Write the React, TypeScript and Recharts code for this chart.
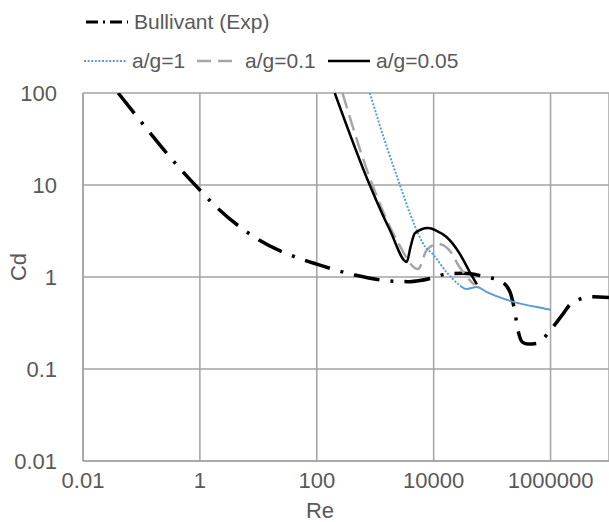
import { CartesianGrid, Label, Line, LineChart, XAxis, YAxis } from "recharts";

// Re / Cd pairs (log-log)
const bullivantRe = [0.04, 0.106, 0.42, 1, 1.7, 8.7, 60, 100, 446, 2000, 3900, 9500, 16600, 31600, 79000, 145000, 200000, 240000, 275000, 330000, 410000, 575000, 1070000, 1600000, 2300000, 5200000, 10000000];
const bullivantCd = [100, 46, 16, 8.8, 6.2, 2.7, 1.53, 1.38, 1.05, 0.9, 0.89, 0.975, 1.08, 1.1, 1.0, 0.89, 0.7, 0.45, 0.27, 0.196, 0.187, 0.19, 0.28, 0.39, 0.52, 0.61, 0.6];

const ag1Re = [805, 1580, 2650, 3900, 5100, 6500, 10000, 16600, 27500, 36000, 55000, 80000, 224000, 840000, 1000000];
const ag1Cd = [100, 25.9, 10, 4.97, 3.24, 2.34, 1.73, 1.13, 0.82, 0.74, 0.78, 0.69, 0.54, 0.45, 0.44];

const ag01Re = [275, 870, 2350, 5400, 7600, 11700, 18500, 27500, 41700, 50000];
const ag01Cd = [100, 10.5, 2.5, 1.22, 1.96, 2.29, 1.96, 1.29, 0.92, 0.82];

const ag005Re = [203, 805, 1780, 3470, 4000, 4800, 8000, 11000, 16600, 27500, 41500, 55000];
const ag005Cd = [100, 10, 3.24, 1.46, 2.1, 3.0, 3.4, 3.2, 2.72, 1.82, 1.13, 0.83];

const xTicks = [0.01, 1, 100, 10000, 1000000];
const yTicks = [0.01, 0.1, 1, 10, 100];

const toRows = (re: number[], cd: number[]) => re.map((r, i) => ({ re: r, cd: cd[i] }));

const bullivant = toRows(bullivantRe, bullivantCd);
const ag1 = toRows(ag1Re, ag1Cd);
const ag01 = toRows(ag01Re, ag01Cd);
const ag005 = toRows(ag005Re, ag005Cd);

const textColor = "#595959";
const gridColor = "#a3a3a3";

// dotted along the steep part, then solid (like the dense points in the original)
const blueDash = Array(60).fill("2 1.6").join(" ") + " 3000 0";

function LegendIcon({ stroke, dash, width }: { stroke: string; dash?: string; width: number }) {
  return (
    <svg width={42} height={10} style={{ marginRight: 6 }}>
      <line x1={0} y1={5} x2={42} y2={5} stroke={stroke} strokeWidth={width} strokeDasharray={dash} />
    </svg>
  );
}

function ChartLegend() {
  const item = (left: number, top: number, children: any) => (
    <div style={{ position: "absolute", left, top, display: "flex", alignItems: "center", whiteSpace: "nowrap" }}>
      {children}
    </div>
  );
  return (
    <div style={{ position: "absolute", left: 0, top: 0, fontSize: 21, color: textColor }}>
      {item(86, 10, <><LegendIcon stroke="#000" dash="12 5 2 5" width={3} />Bullivant (Exp)</>)}
      {item(84, 49, <><LegendIcon stroke="#5b9bd5" dash="2 1.6" width={2} />a/g=1</>)}
      {item(197, 49, <><LegendIcon stroke="#a6a6a6" dash="14 7" width={2.5} />a/g=0.1</>)}
      {item(328, 49, <><LegendIcon stroke="#000" width={2.5} />a/g=0.05</>)}
    </div>
  );
}

export default function App() {
  return (
    <div style={{ position: "fixed", left: 0, top: 0, width: 609, height: 522, overflow: "hidden", background: "#fff", fontFamily: "'Liberation Sans', Arial, sans-serif" }}>
      <LineChart width={609} height={522} margin={{ top: 93, right: 0, left: 0, bottom: 0 }}>
        <CartesianGrid stroke={gridColor} strokeWidth={1.5} />
        <XAxis
          dataKey="re"
          type="number"
          scale="log"
          domain={[0.01, 10000000]}
          ticks={xTicks}
          allowDataOverflow
          height={61}
          tickLine={false}
          tickSize={0}
          tickMargin={11}
          axisLine={{ stroke: gridColor, strokeWidth: 1.5 }}
          tick={{ fill: textColor, fontSize: 22 }}
        >
          <Label content={() => <text x={320} y={518} textAnchor="middle" fill={textColor} fontSize={22}>Re</text>} />
        </XAxis>
        <YAxis
          dataKey="cd"
          type="number"
          scale="log"
          domain={[0.01, 100]}
          ticks={yTicks}
          allowDataOverflow
          width={83}
          tickLine={false}
          tickSize={0}
          tickMargin={26}
          axisLine={{ stroke: gridColor, strokeWidth: 1.5 }}
          tick={{ fill: textColor, fontSize: 22 }}
        >
          <Label content={() => (
            <text x={18} y={267} transform="rotate(-90 18 267)" textAnchor="middle" dominantBaseline="central" fill={textColor} fontSize={22}>Cd</text>
          )} />
        </YAxis>
        <Line data={bullivant} dataKey="cd" type="monotone" stroke="#000" strokeWidth={3.5} strokeDasharray="26 11 3 11" dot={false} isAnimationActive={false} />
        <Line data={ag01} dataKey="cd" type="monotone" stroke="#a6a6a6" strokeWidth={2.5} strokeDasharray="16 7" dot={false} isAnimationActive={false} />
        <Line data={ag1} dataKey="cd" type="monotone" stroke="#5b9bd5" strokeWidth={2} strokeDasharray={blueDash} dot={false} isAnimationActive={false} />
        <Line data={ag005} dataKey="cd" type="monotone" stroke="#000" strokeWidth={2.5} dot={false} isAnimationActive={false} />
      </LineChart>
      <ChartLegend />
    </div>
  );
}
